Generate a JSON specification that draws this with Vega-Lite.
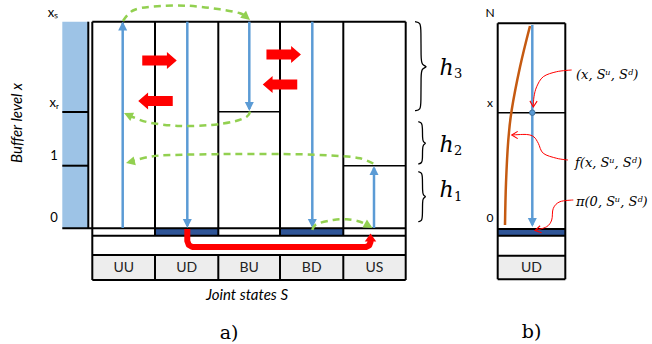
{
"$schema": "https://vega.github.io/schema/vega-lite/v6.json",
"width": 652, "height": 344, "padding": 0,
"autosize": {"type": "fit", "contains": "padding"},
"background": "white",
"config": {"view": {"stroke": null}},
"encoding": {
  "x": {"field": "x", "type": "quantitative", "scale": {"domain": [0, 652], "nice": false, "zero": false}, "axis": null},
  "y": {"field": "y", "type": "quantitative", "scale": {"domain": [0, 344], "nice": false, "zero": false, "reverse": true}, "axis": null}
},
"layer": [
  {"data": {"values": [
    {"x": 62.3, "x2": 88.3, "y": 21.7, "y2": 228.3, "k": "bar"},
    {"x": 155, "x2": 218.3, "y": 228.3, "y2": 235.7, "k": "dark"},
    {"x": 280, "x2": 343.3, "y": 228.3, "y2": 235.7, "k": "dark"},
    {"x": 497.7, "x2": 565.3, "y": 229, "y2": 235.7, "k": "dark"},
    {"x": 92.3, "x2": 405.7, "y": 255, "y2": 280, "k": "gray"},
    {"x": 497.7, "x2": 565.3, "y": 255.7, "y2": 279.3, "k": "gray"}
  ]},
  "mark": {"type": "rect"},
  "encoding": {"x2": {"field": "x2"}, "y2": {"field": "y2"},
    "color": {"field": "k", "type": "nominal", "scale": {"domain": ["bar", "dark", "gray"], "range": ["#9DC3E6", "#2F5597", "#EDEDED"]}, "legend": null}}},

  {"data": {"values": [
    {"x": 92.3, "y": 21.7, "x2": 405.7, "y2": 21.7},
    {"x": 62.3, "y": 228.3, "x2": 405.7, "y2": 228.3},
    {"x": 92.3, "y": 235.7, "x2": 405.7, "y2": 235.7},
    {"x": 92.3, "y": 255, "x2": 405.7, "y2": 255},
    {"x": 92.3, "y": 280, "x2": 405.7, "y2": 280},
    {"x": 92.3, "y": 21.7, "x2": 92.3, "y2": 280},
    {"x": 405.7, "y": 21.7, "x2": 405.7, "y2": 280},
    {"x": 155, "y": 21.7, "x2": 155, "y2": 235.7},
    {"x": 155, "y": 255, "x2": 155, "y2": 280},
    {"x": 218.3, "y": 21.7, "x2": 218.3, "y2": 235.7},
    {"x": 218.3, "y": 255, "x2": 218.3, "y2": 280},
    {"x": 280, "y": 21.7, "x2": 280, "y2": 235.7},
    {"x": 280, "y": 255, "x2": 280, "y2": 280},
    {"x": 343.3, "y": 21.7, "x2": 343.3, "y2": 235.7},
    {"x": 343.3, "y": 255, "x2": 343.3, "y2": 280},
    {"x": 88.3, "y": 21.7, "x2": 88.3, "y2": 228.3},
    {"x": 62.3, "y": 112, "x2": 88.3, "y2": 112},
    {"x": 62.3, "y": 165.7, "x2": 88.3, "y2": 165.7},
    {"x": 497.7, "y": 23.3, "x2": 497.7, "y2": 279.3},
    {"x": 565.3, "y": 23.3, "x2": 565.3, "y2": 279.3},
    {"x": 497.7, "y": 23.3, "x2": 565.3, "y2": 23.3},
    {"x": 497.7, "y": 229, "x2": 565.3, "y2": 229},
    {"x": 497.7, "y": 235.7, "x2": 565.3, "y2": 235.7},
    {"x": 497.7, "y": 255.7, "x2": 565.3, "y2": 255.7},
    {"x": 497.7, "y": 279.3, "x2": 565.3, "y2": 279.3}
  ]},
  "mark": {"type": "rule", "color": "black", "strokeWidth": 2},
  "encoding": {"x2": {"field": "x2"}, "y2": {"field": "y2"}}},

  {"data": {"values": [
    {"x": 218.3, "y": 111.7, "x2": 280, "y2": 111.7},
    {"x": 343.3, "y": 165.7, "x2": 405.7, "y2": 165.7},
    {"x": 497.7, "y": 112.7, "x2": 565.3, "y2": 112.7}
  ]},
  "mark": {"type": "rule", "color": "black", "strokeWidth": 1.4},
  "encoding": {"x2": {"field": "x2"}, "y2": {"field": "y2"}}},

  {"data": {"values": [
    {"id": "h3", "i": 0, "x": 415, "y": 21.7}, {"id": "h3", "i": 1, "x": 420.5, "y": 22.5}, {"id": "h3", "i": 2, "x": 421, "y": 30},
    {"id": "h3", "i": 3, "x": 421, "y": 58}, {"id": "h3", "i": 4, "x": 421.5, "y": 65}, {"id": "h3", "i": 5, "x": 428.3, "y": 66.7},
    {"id": "h3", "i": 6, "x": 421.5, "y": 68.5}, {"id": "h3", "i": 7, "x": 421, "y": 75}, {"id": "h3", "i": 8, "x": 421, "y": 103},
    {"id": "h3", "i": 9, "x": 420.5, "y": 110}, {"id": "h3", "i": 10, "x": 415, "y": 110.7},
    {"id": "h2", "i": 0, "x": 418.3, "y": 121.7}, {"id": "h2", "i": 1, "x": 422, "y": 122.5}, {"id": "h2", "i": 2, "x": 422.5, "y": 128},
    {"id": "h2", "i": 3, "x": 422.5, "y": 138}, {"id": "h2", "i": 4, "x": 423, "y": 142}, {"id": "h2", "i": 5, "x": 426.5, "y": 143.3},
    {"id": "h2", "i": 6, "x": 423, "y": 144.7}, {"id": "h2", "i": 7, "x": 422.5, "y": 149}, {"id": "h2", "i": 8, "x": 422.5, "y": 159},
    {"id": "h2", "i": 9, "x": 422, "y": 163}, {"id": "h2", "i": 10, "x": 418.3, "y": 164},
    {"id": "h1", "i": 0, "x": 418.3, "y": 171.7}, {"id": "h1", "i": 1, "x": 422, "y": 172.5}, {"id": "h1", "i": 2, "x": 422.5, "y": 178},
    {"id": "h1", "i": 3, "x": 422.5, "y": 191}, {"id": "h1", "i": 4, "x": 423, "y": 195.5}, {"id": "h1", "i": 5, "x": 426.5, "y": 196.7},
    {"id": "h1", "i": 6, "x": 423, "y": 198}, {"id": "h1", "i": 7, "x": 422.5, "y": 202}, {"id": "h1", "i": 8, "x": 422.5, "y": 215},
    {"id": "h1", "i": 9, "x": 422, "y": 221}, {"id": "h1", "i": 10, "x": 418.3, "y": 221.7}
  ]},
  "mark": {"type": "line", "color": "black", "strokeWidth": 1.3, "interpolate": "basis"},
  "encoding": {"detail": {"field": "id"}, "order": {"field": "i", "type": "quantitative"}}},

  {"data": {"values": [
    {"i": 0, "x": 530, "y": 26}, {"i": 1, "x": 520, "y": 67}, {"i": 2, "x": 511.7, "y": 110},
    {"i": 3, "x": 508.3, "y": 140}, {"i": 4, "x": 506, "y": 183}, {"i": 5, "x": 505, "y": 225}
  ]},
  "mark": {"type": "line", "color": "#C55A11", "strokeWidth": 2.5, "interpolate": "cardinal"},
  "encoding": {"order": {"field": "i", "type": "quantitative"}}},

  {"data": {"values": [
    {"x": 122.7, "y": 228, "y2": 23},
    {"x": 187.3, "y": 21.7, "y2": 226},
    {"x": 249.3, "y": 21.7, "y2": 109},
    {"x": 312.3, "y": 21.7, "y2": 226},
    {"x": 374, "y": 228, "y2": 168},
    {"x": 532.3, "y": 25, "y2": 225}
  ]},
  "mark": {"type": "rule", "color": "#5B9BD5", "strokeWidth": 2.5},
  "encoding": {"y2": {"field": "y2"}}},

  {"data": {"values": [
    {"x": 122.7, "y": 21.5, "a": 270},
    {"x": 187.3, "y": 228, "a": 90},
    {"x": 249.3, "y": 111, "a": 90},
    {"x": 312.3, "y": 228, "a": 90},
    {"x": 374, "y": 166, "a": 270},
    {"x": 532.3, "y": 227, "a": 90}
  ]},
  "mark": {"type": "point", "shape": "M0,0L-2,-1L-2,1Z", "filled": true, "size": 81, "color": "#5B9BD5", "opacity": 1},
  "encoding": {"angle": {"field": "a", "type": "quantitative", "scale": null}}},

  {"data": {"values": [{"x": 532.3, "y": 112.7}]},
  "mark": {"type": "point", "shape": "circle", "filled": true, "size": 30, "color": "#5B9BD5", "stroke": "#41719C", "strokeWidth": 1, "opacity": 1}},

  {"data": {"values": [
    {"id": "g1", "i": 0, "x": 123, "y": 21}, {"id": "g1", "i": 1, "x": 133, "y": 10.5}, {"id": "g1", "i": 2, "x": 153, "y": 6.5},
    {"id": "g1", "i": 3, "x": 187, "y": 5.7}, {"id": "g1", "i": 4, "x": 220, "y": 9.3}, {"id": "g1", "i": 5, "x": 240, "y": 13.3},
    {"id": "g1", "i": 6, "x": 248, "y": 18},
    {"id": "g2", "i": 0, "x": 250, "y": 111.5}, {"id": "g2", "i": 1, "x": 246.7, "y": 116.7}, {"id": "g2", "i": 2, "x": 233.3, "y": 121.7},
    {"id": "g2", "i": 3, "x": 210, "y": 125}, {"id": "g2", "i": 4, "x": 180, "y": 126}, {"id": "g2", "i": 5, "x": 150, "y": 122.7},
    {"id": "g2", "i": 6, "x": 133.3, "y": 117.3}, {"id": "g2", "i": 7, "x": 127, "y": 114.5},
    {"id": "g3", "i": 0, "x": 373.3, "y": 163.5}, {"id": "g3", "i": 1, "x": 360, "y": 158.3}, {"id": "g3", "i": 2, "x": 340, "y": 156},
    {"id": "g3", "i": 3, "x": 300, "y": 154.3}, {"id": "g3", "i": 4, "x": 233, "y": 154}, {"id": "g3", "i": 5, "x": 173, "y": 155},
    {"id": "g3", "i": 6, "x": 150, "y": 156.7}, {"id": "g3", "i": 7, "x": 129, "y": 162},
    {"id": "g4", "i": 0, "x": 312.3, "y": 230}, {"id": "g4", "i": 1, "x": 316.7, "y": 224}, {"id": "g4", "i": 2, "x": 333.3, "y": 220},
    {"id": "g4", "i": 3, "x": 346.7, "y": 219.3}, {"id": "g4", "i": 4, "x": 360, "y": 221.7}, {"id": "g4", "i": 5, "x": 369, "y": 226}
  ]},
  "mark": {"type": "line", "color": "#92D050", "strokeWidth": 2.5, "strokeDash": [7, 5], "interpolate": "cardinal"},
  "encoding": {"detail": {"field": "id"}, "order": {"field": "i", "type": "quantitative"}}},

  {"data": {"values": [
    {"x": 250, "y": 20, "a": 40},
    {"x": 124, "y": 113, "a": 205},
    {"x": 126, "y": 163, "a": 166},
    {"x": 372.5, "y": 228, "a": 30}
  ]},
  "mark": {"type": "point", "shape": "M0,0L-2,-1L-2,1Z", "filled": true, "size": 81, "color": "#92D050", "opacity": 1},
  "encoding": {"angle": {"field": "a", "type": "quantitative", "scale": null}}},

  {"data": {"values": [
    {"i": 0, "x": 187.3, "y": 229}, {"i": 1, "x": 187.3, "y": 241}, {"i": 2, "x": 188.8, "y": 245},
    {"i": 3, "x": 192.3, "y": 247}, {"i": 4, "x": 366, "y": 247}, {"i": 5, "x": 369.3, "y": 245.3},
    {"i": 6, "x": 370.5, "y": 242}, {"i": 7, "x": 370.5, "y": 239}
  ]},
  "mark": {"type": "line", "color": "#FF0000", "strokeWidth": 6, "strokeJoin": "round", "interpolate": "linear"},
  "encoding": {"order": {"field": "i", "type": "quantitative"}}},

  {"data": {"values": [{"x": 370.5, "y": 233.5, "a": 270}]},
  "mark": {"type": "point", "shape": "M0,0L-1.6,-1.15L-1.6,1.15Z", "filled": true, "size": 100, "color": "#FF0000", "opacity": 1},
  "encoding": {"angle": {"field": "a", "type": "quantitative", "scale": null}}},

  {"data": {"values": [
    {"x": 159.5, "y": 60.5, "a": 0},
    {"x": 155.5, "y": 101, "a": 180},
    {"x": 283.7, "y": 54.5, "a": 0},
    {"x": 280, "y": 84.5, "a": 180}
  ]},
  "mark": {"type": "point", "shape": "M-1,-0.29L0.43,-0.29L0.43,-0.49L1,0L0.43,0.49L0.43,0.29L-1,0.29Z", "filled": true, "size": 1190, "color": "#FF0000", "opacity": 1},
  "encoding": {"angle": {"field": "a", "type": "quantitative", "scale": null}}},

  {"data": {"values": [
    {"id": "r1", "i": 0, "x": 571.7, "y": 70}, {"id": "r1", "i": 1, "x": 556.7, "y": 71.7}, {"id": "r1", "i": 2, "x": 543.3, "y": 76.7},
    {"id": "r1", "i": 3, "x": 536.7, "y": 86.7}, {"id": "r1", "i": 4, "x": 534, "y": 96.7}, {"id": "r1", "i": 5, "x": 533.3, "y": 106.5},
    {"id": "r2", "i": 0, "x": 568, "y": 160}, {"id": "r2", "i": 1, "x": 556.7, "y": 158.3}, {"id": "r2", "i": 2, "x": 543.3, "y": 153.3},
    {"id": "r2", "i": 3, "x": 538.3, "y": 143.3}, {"id": "r2", "i": 4, "x": 534, "y": 137}, {"id": "r2", "i": 5, "x": 526.7, "y": 134.5},
    {"id": "r2", "i": 6, "x": 512, "y": 135},
    {"id": "r3", "i": 0, "x": 573.3, "y": 200}, {"id": "r3", "i": 1, "x": 560, "y": 201.7}, {"id": "r3", "i": 2, "x": 553.3, "y": 208.3},
    {"id": "r3", "i": 3, "x": 551.7, "y": 220}, {"id": "r3", "i": 4, "x": 546.7, "y": 226.7}, {"id": "r3", "i": 5, "x": 535.5, "y": 230.3}
  ]},
  "mark": {"type": "line", "color": "#FF0000", "strokeWidth": 1, "interpolate": "cardinal"},
  "encoding": {"detail": {"field": "id"}, "order": {"field": "i", "type": "quantitative"}}},

  {"data": {"values": [
    {"x": 533.3, "y": 107, "a": 92},
    {"x": 511.7, "y": 135, "a": 180},
    {"x": 535, "y": 230.5, "a": 168}
  ]},
  "mark": {"type": "point", "shape": "M-2,-1.2L0,0L-2,1.2", "filled": false, "size": 36, "color": "#FF0000", "strokeWidth": 1.1, "opacity": 1},
  "encoding": {"angle": {"field": "a", "type": "quantitative", "scale": null}}},

  {"data": {"values": [
    {"x": 123.7, "y": 267.5, "t": "UU"}, {"x": 186.7, "y": 267.5, "t": "UD"}, {"x": 249.2, "y": 267.5, "t": "BU"},
    {"x": 311.7, "y": 267.5, "t": "BD"}, {"x": 374.5, "y": 267.5, "t": "US"}, {"x": 531.5, "y": 267.5, "t": "UD"}
  ]},
  "mark": {"type": "text", "font": "Lato", "fontSize": 14, "color": "#222222", "align": "center", "baseline": "middle"},
  "encoding": {"text": {"field": "t"}}},

  {"data": {"values": [
    {"x": 53, "y": 12.5, "t": "xₛ"}, {"x": 54, "y": 102.5, "t": "xᵣ"}, {"x": 54, "y": 156, "t": "1"}, {"x": 54, "y": 218, "t": "0"}
  ]},
  "mark": {"type": "text", "font": "Lato", "fontSize": 13, "color": "black", "align": "center", "baseline": "middle"},
  "encoding": {"text": {"field": "t"}}},

  {"data": {"values": [
    {"x": 490, "y": 13, "t": "N"}, {"x": 490, "y": 103, "t": "x"}, {"x": 490, "y": 218, "t": "0"}
  ]},
  "mark": {"type": "text", "font": "Lato", "fontSize": 12, "color": "black", "align": "center", "baseline": "middle"},
  "encoding": {"text": {"field": "t"}}},

  {"data": {"values": [{"x": 17, "y": 123, "t": "Buffer level x"}]},
  "mark": {"type": "text", "font": "Lato", "fontSize": 15, "fontStyle": "italic", "angle": 270, "color": "black", "align": "center", "baseline": "middle"},
  "encoding": {"text": {"field": "t"}}},

  {"data": {"values": [{"x": 247, "y": 295, "t": "Joint states S"}]},
  "mark": {"type": "text", "font": "Lato", "fontSize": 15, "fontStyle": "italic", "color": "black", "align": "center", "baseline": "middle"},
  "encoding": {"text": {"field": "t"}}},

  {"data": {"values": [{"x": 229, "y": 333, "t": "a)"}, {"x": 531.5, "y": 332, "t": "b)"}]},
  "mark": {"type": "text", "font": "DejaVu Serif", "fontSize": 19, "color": "black", "align": "center", "baseline": "middle"},
  "encoding": {"text": {"field": "t"}}},

  {"data": {"values": [
    {"x": 439.5, "y": 75, "t": "h"}, {"x": 439.5, "y": 152, "t": "h"}, {"x": 439.5, "y": 197, "t": "h"}
  ]},
  "mark": {"type": "text", "font": "DejaVu Serif", "fontSize": 22, "fontStyle": "italic", "color": "black", "align": "left", "baseline": "alphabetic"},
  "encoding": {"text": {"field": "t"}}},

  {"data": {"values": [
    {"x": 454, "y": 78, "t": "3"}, {"x": 454, "y": 155, "t": "2"}, {"x": 454, "y": 201, "t": "1"}
  ]},
  "mark": {"type": "text", "font": "DejaVu Serif", "fontSize": 13, "color": "black", "align": "left", "baseline": "alphabetic"},
  "encoding": {"text": {"field": "t"}}},

  {"data": {"values": [
    {"x": 576, "y": 75, "t": "(x, Sᵘ, Sᵈ)"}, {"x": 575, "y": 163, "t": "f(x, Sᵘ, Sᵈ)"}, {"x": 576, "y": 202, "t": "π(0, Sᵘ, Sᵈ)"}
  ]},
  "mark": {"type": "text", "font": "DejaVu Serif", "fontSize": 13, "fontStyle": "italic", "color": "black", "align": "left", "baseline": "middle"},
  "encoding": {"text": {"field": "t"}}}
]
}
